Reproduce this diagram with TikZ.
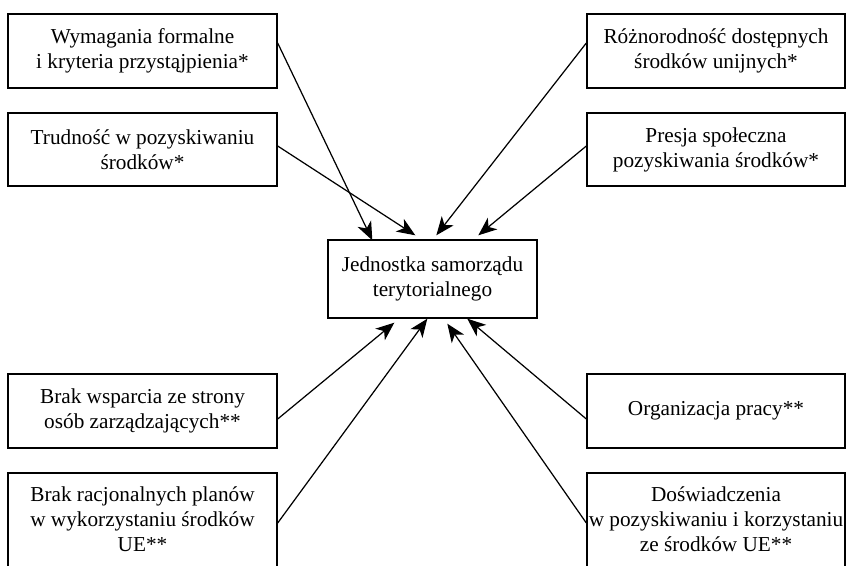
\documentclass[tikz,border=0pt]{standalone}
\usepackage{fontspec}
\setmainfont{Liberation Serif}
\usetikzlibrary{calc,arrows.meta}
\tikzset{
	czynnik/.style={draw, line width=0.8pt, align=center, inner sep=0pt, font=\fontsize{12.1}{14.2}\selectfont},
	strzalka/.style={line width=0.7pt, -{Stealth[length=10.5pt,width=8.5pt,inset=3pt]}}
}

\begin{document}
\begin{tikzpicture}[x=0.02cm, y=-0.02cm]
			%%%%% START %%%%%
			\def\xl{142.5}
			\def\xr{716}
			\useasboundingbox (0,0) rectangle (847,565);
			
			% lewa kolumna
			\node[czynnik, minimum width=5.38cm, minimum height=1.48cm] (w1) at (\xl,51) {Wymagania formalne\\i kryteria przystąjpienia*};
			\node[czynnik, minimum width=5.38cm, minimum height=1.46cm] (w2) at (\xl,149.5) {Trudność w pozyskiwaniu\\środków*};
			\node[czynnik, minimum width=5.38cm, minimum height=1.48cm] (w3) at (\xl,411) {Brak wsparcia ze strony\\osób zarządzających**};
			\node[czynnik, minimum width=5.38cm, minimum height=2.04cm] (w4) at (\xl,524) {Brak racjonalnych planów\\w wykorzystaniu środków\\UE**\\[-8.6pt]};
			
			% prawa kolumna
			\node[czynnik, minimum width=5.16cm, minimum height=1.48cm] (p1) at (\xr,51) {Różnorodność dostępnych\\środków unijnych*};
			\node[czynnik, minimum width=5.16cm, minimum height=1.46cm] (p2) at (\xr,149.5) {Presja społeczna\\pozyskiwania środków*};
			\node[czynnik, minimum width=5.16cm, minimum height=1.48cm] (p3) at (\xr,411) {Organizacja pracy**};
			\node[czynnik, minimum width=5.16cm, minimum height=2.04cm] (p4) at (\xr,524) {Doświadczenia\\w pozyskiwaniu i korzystaniu\\ze środków UE**\\[-8.6pt]};
			
			% srodek
			\node[czynnik, minimum width=4.18cm, minimum height=1.56cm] (jst) at (432.5,279) {Jednostka samorządu\\terytorialnego};
			
			\draw[strzalka] ($(w1.east)+(0,-8)$) -- ($(jst.north west)+(45,1)$);
			\draw[strzalka] ($(w2.east)+(0,-3.5)$) -- ($(jst.north west)+(88,-4)$);
			\draw[strzalka] ($(p1.west)+(0,-8)$) -- ($(jst.north west)+(109,-4)$);
			\draw[strzalka] ($(p2.west)+(0,-3.5)$) -- ($(jst.north west)+(151,-4)$);
			
			\draw[strzalka] ($(w3.east)+(0,8)$) -- ($(jst.south west)+(67,4)$);
			\draw[strzalka] ($(w4.east)+(0,-1)$) -- ($(jst.south west)+(100,0)$);
			\draw[strzalka] ($(p4.west)+(0,-1)$) -- ($(jst.south west)+(120,5)$);
			\draw[strzalka] ($(p3.west)+(0,8)$) -- ($(jst.south west)+(140,0)$);
			%%%%% END %%%%%
\end{tikzpicture}
\end{document}
